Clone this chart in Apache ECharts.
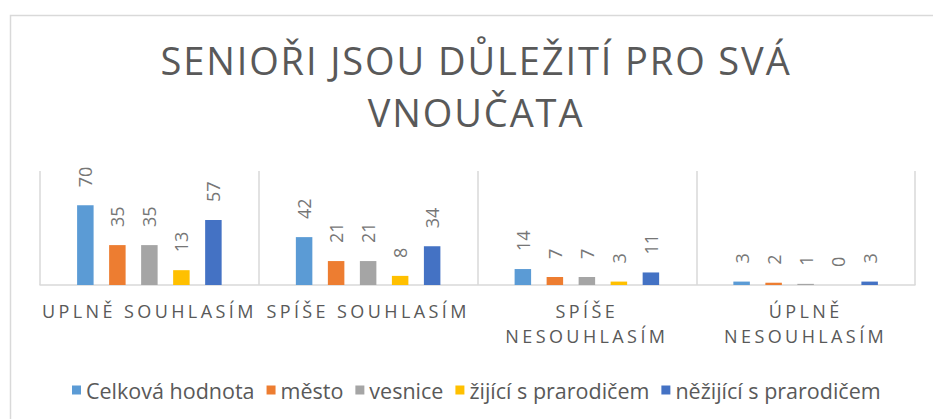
<!DOCTYPE html>
<html>
<head>
<meta charset="utf-8">
<script src="https://cdn.jsdelivr.net/npm/echarts@6/dist/echarts.min.js"></script>
<style>
  html, body { margin: 0; padding: 0; background: #fff; }
  #chart { width: 933px; height: 419px; }
</style>
</head>
<body>
<div id="chart"></div>
<script>
// chart data
var titleLines = ['SENIOŘI JSOU DŮLEŽITÍ PRO SVÁ', 'VNOUČATA'];
var categories = ['UPLNĚ SOUHLASÍM', 'SPÍŠE SOUHLASÍM', 'SPÍŠE NESOUHLASÍM', 'ÚPLNĚ NESOUHLASÍM'];
var seriesNames = ['Celková hodnota', 'město', 'vesnice', 'žijící s prarodičem', 'něžijící s prarodičem'];
var celkova = [70, 42, 14, 3];
var mesto = [35, 21, 7, 2];
var vesnice = [35, 21, 7, 1];
var zijici = [13, 8, 3, 0];
var nezijici = [57, 34, 11, 3];
var colors = ['#5b9bd5', '#ed7d31', '#a5a5a5', '#ffc000', '#4472c4'];

var font = '"Open Sans", "Liberation Sans", sans-serif';
var values = [celkova, mesto, vesnice, zijici, nezijici];

var series = seriesNames.map(function (name, i) {
    return {
        name: name,
        type: 'bar',
        data: values[i],
        barWidth: 16.5,
        barGap: '94%',
        itemStyle: { color: colors[i] },
        label: {
            show: true,
            position: 'top',
            distance: 18,
            rotate: 90,
            align: 'left',
            verticalAlign: 'middle',
            color: '#767676',
            fontSize: 18,
            fontFamily: font
        }
    };
});

var option = {
    animation: false,
    color: colors,
    graphic: [{
        type: 'rect',
        left: 8, top: 13,
        shape: { width: 940, height: 420 },
        style: { fill: 'none', stroke: '#d9d9d9', lineWidth: 1.5 },
        silent: true
    }],
    title: {
        text: titleLines.join('\n'),
        left: 471,
        top: 29,
        textAlign: 'center',
        textStyle: {
            color: '#595959',
            fontSize: 38,
            fontWeight: 'normal',
            fontFamily: font,
            lineHeight: 52
        }
    },
    legend: {
        data: seriesNames,
        left: 67,
        top: 374,
        itemWidth: 9,
        itemHeight: 9,
        itemGap: 12,
        icon: 'rect',
        textStyle: { color: '#595959', fontSize: 21.5, fontFamily: font }
    },
    grid: { left: 40, right: 18, top: 171, bottom: 134 },
    xAxis: {
        type: 'category',
        data: categories,
        axisLine: { lineStyle: { color: '#d9d9d9', width: 1.5 } },
        axisTick: { show: false },
        splitLine: { show: true, lineStyle: { color: '#d9d9d9', width: 1.5 } },
        axisLabel: {
            color: '#595959',
            fontSize: 18,
            fontFamily: font,
            margin: 13,
            lineHeight: 25,
            interval: 0,
            formatter: function (v) { return v.length > 15 ? v.replace(' ', '\n') : v; }
        }
    },
    yAxis: {
        type: 'value',
        min: 0,
        max: 100,
        show: false,
        splitLine: { show: false }
    },
    series: series
};

var chart = echarts.init(document.getElementById('chart'), null, { renderer: 'svg' });
chart.setOption(option);

// Excel-style character spacing on the title and category labels
var axisWords = [];
categories.forEach(function (c) {
    axisWords.push(c);
    c.split(' ').forEach(function (w) { axisWords.push(w); });
});
function spaceOut() {
    var texts = document.querySelectorAll('#chart text');
    Array.prototype.forEach.call(texts, function (t) {
        var s = t.textContent;
        if (titleLines.indexOf(s) >= 0) {
            t.style.letterSpacing = '1.9px';
        } else if (axisWords.indexOf(s) >= 0) {
            t.style.letterSpacing = '3.4px';
        }
    });
}
spaceOut();
chart.on('finished', spaceOut);
</script>
</body>
</html>
